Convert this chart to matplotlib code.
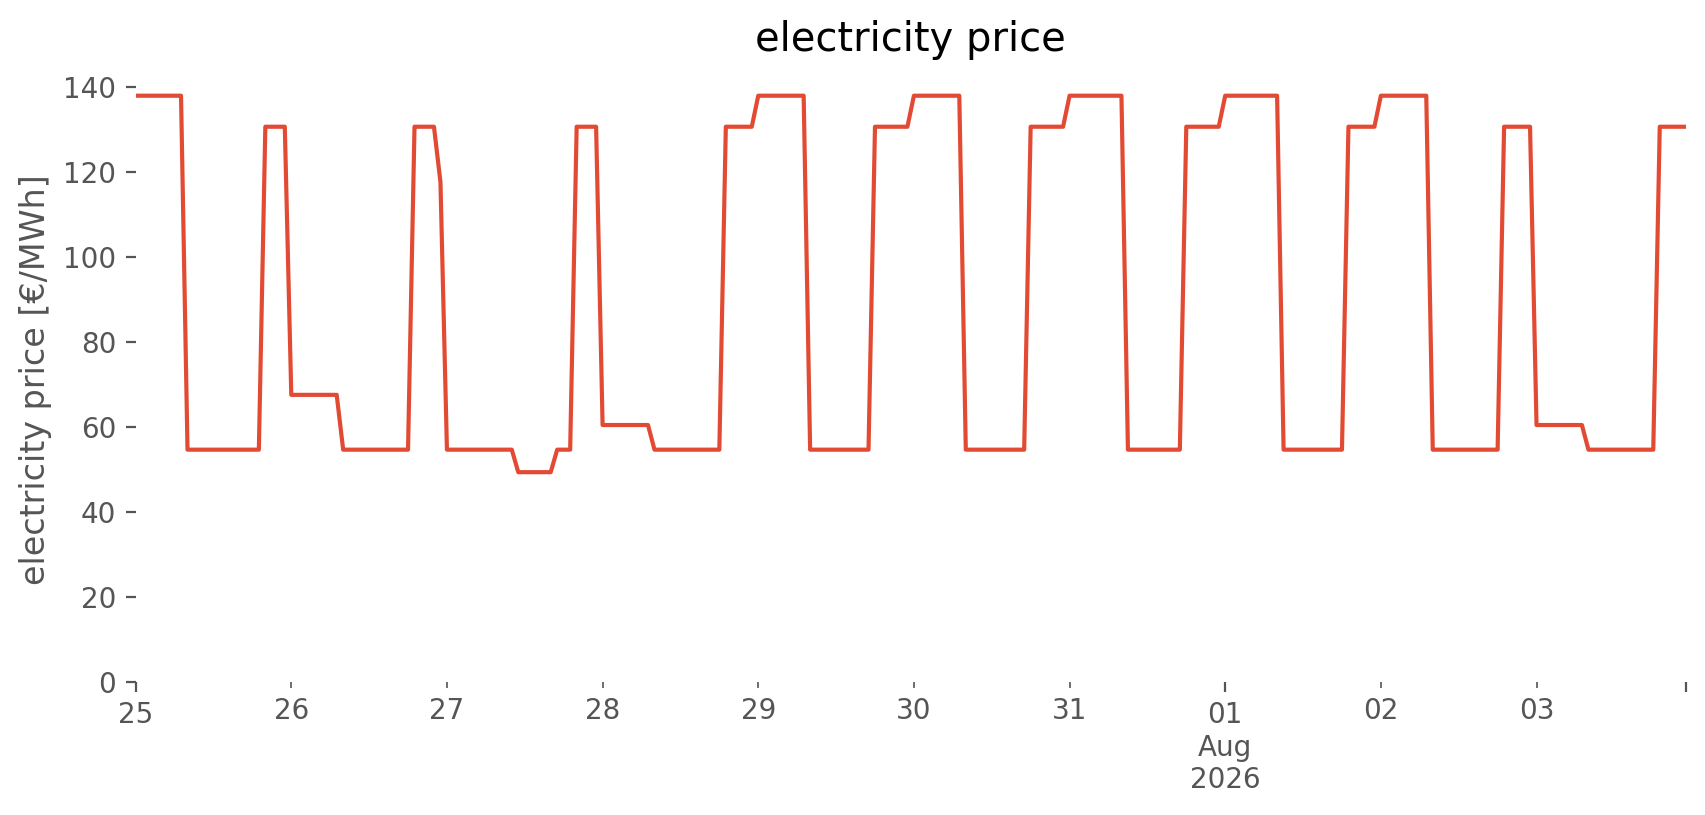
"""Hourly electricity price over ten days."""
import matplotlib

matplotlib.use("Agg")
import matplotlib.dates as mdates
import matplotlib.pyplot as plt
import numpy as np
import pandas as pd
from matplotlib.ticker import FixedFormatter, FixedLocator

# hourly prices [EUR/MWh], one list per day (00:00 .. 23:00)
PRICE_JUL25 = [137.9, 137.9, 137.9, 137.9, 137.9, 137.9, 137.9, 137.9,
               54.6, 54.6, 54.6, 54.6, 54.6, 54.6, 54.6, 54.6, 54.6, 54.6, 54.6, 54.6,
               130.6, 130.6, 130.6, 130.6]
PRICE_JUL26 = [67.5, 67.5, 67.5, 67.5, 67.5, 67.5, 67.5, 67.5,
               54.6, 54.6, 54.6, 54.6, 54.6, 54.6, 54.6, 54.6, 54.6, 54.6, 54.6,
               130.6, 130.6, 130.6, 130.6, 117.6]
PRICE_JUL27 = [54.6, 54.6, 54.6, 54.6, 54.6, 54.6, 54.6, 54.6, 54.6, 54.6, 54.6,
               49.3, 49.3, 49.3, 49.3, 49.3, 49.3,
               54.6, 54.6, 54.6,
               130.6, 130.6, 130.6, 130.6]
PRICE_JUL28 = [60.4, 60.4, 60.4, 60.4, 60.4, 60.4, 60.4, 60.4,
               54.6, 54.6, 54.6, 54.6, 54.6, 54.6, 54.6, 54.6, 54.6, 54.6, 54.6,
               130.6, 130.6, 130.6, 130.6, 130.6]
PRICE_JUL29 = [137.9, 137.9, 137.9, 137.9, 137.9, 137.9, 137.9, 137.9,
               54.6, 54.6, 54.6, 54.6, 54.6, 54.6, 54.6, 54.6, 54.6, 54.6,
               130.6, 130.6, 130.6, 130.6, 130.6, 130.6]
PRICE_JUL30 = [137.9, 137.9, 137.9, 137.9, 137.9, 137.9, 137.9, 137.9,
               54.6, 54.6, 54.6, 54.6, 54.6, 54.6, 54.6, 54.6, 54.6, 54.6,
               130.6, 130.6, 130.6, 130.6, 130.6, 130.6]
PRICE_JUL31 = [137.9, 137.9, 137.9, 137.9, 137.9, 137.9, 137.9, 137.9, 137.9,
               54.6, 54.6, 54.6, 54.6, 54.6, 54.6, 54.6, 54.6, 54.6,
               130.6, 130.6, 130.6, 130.6, 130.6, 130.6]
PRICE_AUG01 = [137.9, 137.9, 137.9, 137.9, 137.9, 137.9, 137.9, 137.9, 137.9,
               54.6, 54.6, 54.6, 54.6, 54.6, 54.6, 54.6, 54.6, 54.6, 54.6,
               130.6, 130.6, 130.6, 130.6, 130.6]
PRICE_AUG02 = [137.9, 137.9, 137.9, 137.9, 137.9, 137.9, 137.9, 137.9,
               54.6, 54.6, 54.6, 54.6, 54.6, 54.6, 54.6, 54.6, 54.6, 54.6, 54.6,
               130.6, 130.6, 130.6, 130.6, 130.6]
PRICE_AUG03 = [60.4, 60.4, 60.4, 60.4, 60.4, 60.4, 60.4, 60.4,
               54.6, 54.6, 54.6, 54.6, 54.6, 54.6, 54.6, 54.6, 54.6, 54.6, 54.6,
               130.6, 130.6, 130.6, 130.6, 130.6]

START = "2026-07-25 00:00"
MAJOR_LABELS = ["25", "01\nAug\n2026", ""]
MINOR_DAYS = ["2026-07-26", "2026-07-27", "2026-07-28", "2026-07-29",
              "2026-07-30", "2026-07-31", "2026-08-02", "2026-08-03"]
MINOR_LABELS = ["26", "27", "28", "29", "30", "31", "02", "03"]

GREY = "#555555"
RED = "#E24A33"


def build_series() -> pd.Series:
    values = np.concatenate([
        PRICE_JUL25, PRICE_JUL26, PRICE_JUL27, PRICE_JUL28, PRICE_JUL29,
        PRICE_JUL30, PRICE_JUL31, PRICE_AUG01, PRICE_AUG02, PRICE_AUG03,
    ])
    index = pd.date_range(START, periods=len(values), freq="h")
    return pd.Series(values, index=index)


def main() -> None:
    prices = build_series()

    fig = plt.figure(figsize=(8.53, 4.075), dpi=200)
    ax = fig.add_axes([0.0795, 0.1636, 0.9086, 0.7419])
    ax.plot(prices.index.to_pydatetime(), prices.values, color=RED, linewidth=1.5)

    ax.set_xlim(prices.index[0], prices.index[-1])
    ax.set_ylim(0, 142.3)

    major_pos = [mdates.date2num(prices.index[0]),
                 mdates.date2num(pd.Timestamp("2026-08-01")),
                 mdates.date2num(prices.index[-1])]
    minor_pos = [mdates.date2num(pd.Timestamp(d)) for d in MINOR_DAYS]
    ax.xaxis.set_major_locator(FixedLocator(major_pos))
    ax.xaxis.set_major_formatter(FixedFormatter(MAJOR_LABELS))
    ax.xaxis.set_minor_locator(FixedLocator(minor_pos))
    ax.xaxis.set_minor_formatter(FixedFormatter(MINOR_LABELS))
    ax.set_yticks(np.arange(0, 141, 20))

    ax.tick_params(axis="both", which="both", colors=GREY, labelsize=10, direction="out")

    for spine in ax.spines.values():
        spine.set_visible(False)
    ax.set_facecolor("white")
    ax.grid(False)

    ax.set_ylabel("electricity price [€/MWh]", fontsize=12, color=GREY)
    ax.set_title("electricity price", fontsize=14.4, color="black", pad=9.5)

    fig.savefig("out.png", dpi=200, facecolor="white")
    plt.close(fig)


if __name__ == "__main__":
    main()
